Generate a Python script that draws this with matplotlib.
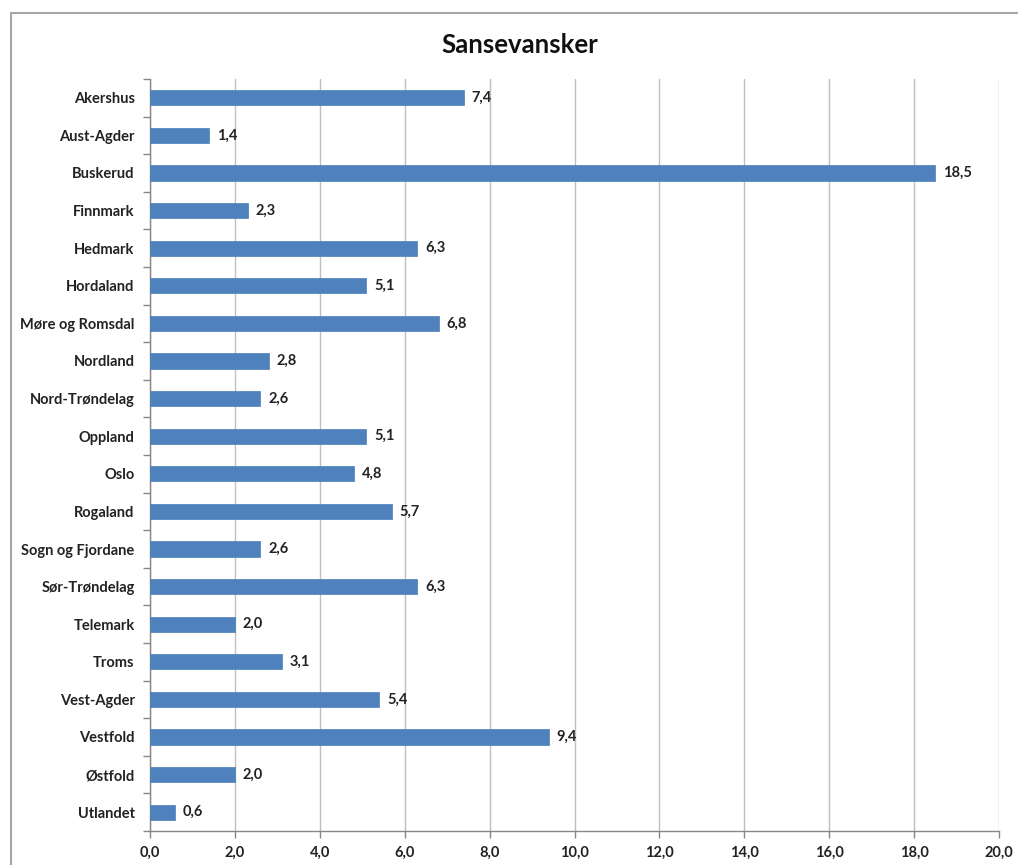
import matplotlib
matplotlib.use("Agg")
import matplotlib.pyplot as plt
from matplotlib.lines import Line2D
import numpy as np

categories = ["Akershus", "Aust-Agder", "Buskerud", "Finnmark", "Hedmark", "Hordaland",
              "Møre og Romsdal", "Nordland", "Nord-Trøndelag", "Oppland", "Oslo", "Rogaland",
              "Sogn og Fjordane", "Sør-Trøndelag", "Telemark", "Troms", "Vest-Agder",
              "Vestfold", "Østfold", "Utlandet"]
values = [7.4, 1.4, 18.5, 2.3, 6.3, 5.1, 6.8, 2.8, 2.6, 5.1, 4.8, 5.7, 2.6, 6.3, 2.0,
          3.1, 5.4, 9.4, 2.0, 0.6]
xticks = [0, 2, 4, 6, 8, 10, 12, 14, 16, 18, 20]
title = "Sansevansker"

plt.rcParams['font.family'] = ['Lato', 'DejaVu Sans']

W, H = 1018, 865
fig = plt.figure(figsize=(W/100, H/100), dpi=100)
ax = fig.add_axes([150/W, 1-831/H, (999-150)/W, (831-79)/H])

n = len(categories)
y = np.arange(n)
ax.barh(y, values, height=0.4, color="#4F81BD", edgecolor="#4A7EBB", linewidth=0.5, zorder=3)
ax.set_ylim(n-0.5, -0.5)
ax.set_xlim(0, 20)

ax.set_yticks(y)
ax.set_yticklabels(categories, fontsize=10.5, fontweight='bold', color='#222222')
ax.set_yticks(np.arange(-0.5, n, 1), minor=True)
ax.tick_params(axis='y', which='major', length=0, pad=11)
ax.tick_params(axis='y', which='minor', length=5, color='#868686', width=1)

ax.set_xticks(xticks)
ax.set_xticklabels([f"{v:.1f}".replace('.', ',') for v in xticks], fontsize=10.5,
                   fontweight='bold', color='#222222')
ax.tick_params(axis='x', which='major', length=5, color='#868686', width=1, pad=6)

ax.grid(axis='x', color='#BFBFBF', linewidth=1, zorder=0)
for s in ['top', 'right']:
    ax.spines[s].set_visible(False)
for s in ['left', 'bottom']:
    ax.spines[s].set_color('#868686')
    ax.spines[s].set_linewidth(1)

for yi, v in zip(y, values):
    ax.annotate(f"{v:.1f}".replace('.', ','), (v, yi), xytext=(5.5, 0), textcoords='offset points',
                va='center', ha='left', fontsize=10.5, fontweight='bold', color='#222222')

fig.text(520/W, 1-45/H, title, ha='center', va='center', fontsize=18.5, fontweight='bold',
         color='#111111')

# outer chart border (left and top visible)
fig.add_artist(Line2D([11/W, 11/W], [1-13/H, 0], transform=fig.transFigure, color='#A6A6A6', linewidth=1.5))
fig.add_artist(Line2D([11/W, 1], [1-13/H, 1-13/H], transform=fig.transFigure, color='#A6A6A6', linewidth=1.5))

fig.savefig("out.png", dpi=100)
